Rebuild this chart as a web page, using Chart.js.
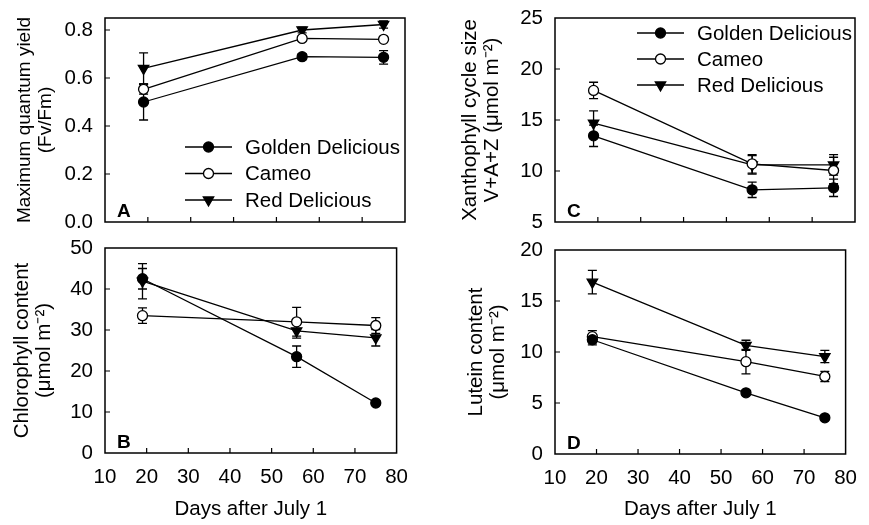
<!DOCTYPE html>
<html>
<head>
<meta charset="utf-8">
<script src="https://cdn.jsdelivr.net/npm/chart.js@4.4.1/dist/chart.umd.min.js"></script>
<style>
  body { margin: 0; background: #fff; }
  #wrap { position: relative; width: 869px; height: 525px; }
  #wrap canvas { position: absolute; }
</style>
</head>
<body>
<div id="wrap">
  <canvas id="chartA" width="420" height="240" style="left:0;top:0"></canvas>
  <canvas id="chartC" width="434" height="240" style="left:435px;top:0"></canvas>
  <canvas id="chartB" width="420" height="300" style="left:0;top:225px"></canvas>
  <canvas id="chartD" width="434" height="300" style="left:435px;top:225px"></canvas>
</div>
<script>
// sampling days (days after July 1)
const days = [19, 56, 75];
const cultivars = ['Golden Delicious', 'Cameo', 'Red Delicious'];
const dayTicks = [10, 20, 30, 40, 50, 60, 70, 80];

// A - maximum quantum yield Fv/Fm
const fvfmGolden = [0.50, 0.689, 0.686];
const fvfmGoldenErr = [0.075, 0.012, 0.028];
const fvfmCameo = [0.553, 0.765, 0.761];
const fvfmCameoErr = [0.02, 0.01, 0.01];
const fvfmRed = [0.64, 0.80, 0.823];
const fvfmRedErr = [0.065, 0.012, 0.015];
const fvfmTicks = [0, 0.2, 0.4, 0.6, 0.8];

// B - chlorophyll content
const chlGolden = [42.5, 23.5, 12.2];
const chlGoldenErr = [2.5, 2.6, 0.6];
const chlCameo = [33.5, 32.0, 31.1];
const chlCameoErr = [1.9, 3.5, 1.9];
const chlRed = [41.9, 29.8, 28.1];
const chlRedErr = [4.3, 1.8, 2.0];
const chlTicks = [0, 10, 20, 30, 40, 50];

// C - xanthophyll cycle size
const xanGolden = [13.45, 8.15, 8.35];
const xanGoldenErr = [1.05, 0.75, 0.85];
const xanCameo = [17.9, 10.7, 10.05];
const xanCameoErr = [0.8, 0.9, 1.3];
const xanRed = [14.7, 10.6, 10.6];
const xanRedErr = [1.2, 0.9, 1.0];
const xanTicks = [5, 10, 15, 20, 25];

// D - lutein content
const lutGolden = [11.2, 6.0, 3.55];
const lutGoldenErr = [0.5, 0.2, 0.2];
const lutCameo = [11.5, 9.05, 7.6];
const lutCameoErr = [0.6, 1.2, 0.5];
const lutRed = [16.85, 10.65, 9.55];
const lutRedErr = [1.15, 0.5, 0.6];
const lutTicks = [0, 5, 10, 15, 20];

const FONT = '"Liberation Sans", Arial, sans-serif';
const TXT = 20.5;
Chart.defaults.font.family = FONT;
Chart.defaults.color = '#000';

const markers = [
  { pointStyle: 'circle', rotation: 0, radius: 5, fill: '#000' },
  { pointStyle: 'circle', rotation: 0, radius: 5, fill: '#fff' },
  { pointStyle: 'triangle', rotation: 180, radius: 6, fill: '#000' }
];

// error bars, drawn under the markers
const errorBars = {
  id: 'errorBars',
  beforeDatasetsDraw(chart) {
    const { ctx, scales } = chart;
    ctx.save();
    ctx.strokeStyle = '#000';
    ctx.lineWidth = 1.3;
    chart.data.datasets.forEach(ds => {
      ds.data.forEach((p, i) => {
        const e = ds.errors[i];
        const x = scales.x.getPixelForValue(p.x);
        const y1 = scales.y.getPixelForValue(p.y + e);
        const y2 = scales.y.getPixelForValue(p.y - e);
        ctx.beginPath();
        ctx.moveTo(x, y1); ctx.lineTo(x, y2);
        ctx.moveTo(x - 4.5, y1); ctx.lineTo(x + 4.5, y1);
        ctx.moveTo(x - 4.5, y2); ctx.lineTo(x + 4.5, y2);
        ctx.stroke();
      });
    });
    ctx.restore();
  }
};

// closed frame, inward tick marks and the panel letter
const frame = {
  id: 'frame',
  afterDraw(chart, args, opts) {
    const { ctx, chartArea: a, scales } = chart;
    ctx.save();
    ctx.strokeStyle = '#000';
    ctx.lineWidth = 1.5;
    ctx.strokeRect(a.left, a.top, a.right - a.left, a.bottom - a.top);
    ctx.lineWidth = 1.2;
    ctx.beginPath();
    scales.x.ticks.forEach(t => {
      const px = scales.x.getPixelForValue(t.value);
      if (px <= a.left + 1 || px >= a.right - 1) return;
      ctx.moveTo(px, a.bottom); ctx.lineTo(px, a.bottom - 5);
    });
    scales.y.ticks.forEach(t => {
      const py = scales.y.getPixelForValue(t.value);
      if (py <= a.top + 1 || py >= a.bottom - 1) return;
      ctx.moveTo(a.left, py); ctx.lineTo(a.left + 5, py);
    });
    ctx.stroke();
    ctx.fillStyle = '#000';
    ctx.font = 'bold 19px ' + FONT;
    ctx.textBaseline = 'alphabetic';
    ctx.fillText(opts.letter, a.left + 12, a.bottom - 5);
    ctx.restore();
  }
};

// legend with line + marker samples
const keyBox = {
  id: 'keyBox',
  afterDraw(chart, args, opts) {
    if (!opts.show) return;
    const { ctx, chartArea: a } = chart;
    ctx.save();
    chart.data.datasets.forEach((ds, i) => {
      const x0 = a.left + opts.x;
      const y = a.top + opts.y + i * opts.gap;
      ctx.strokeStyle = '#000';
      ctx.lineWidth = 1.3;
      ctx.beginPath();
      ctx.moveTo(x0, y); ctx.lineTo(x0 + 47, y);
      ctx.stroke();
      const m = markers[i];
      ctx.fillStyle = m.fill;
      Chart.helpers.drawPoint(ctx, { pointStyle: m.pointStyle, rotation: m.rotation, radius: m.radius, borderWidth: 1.3 }, x0 + 23.5, y);
      ctx.fillStyle = '#000';
      ctx.font = TXT + 'px ' + FONT;
      ctx.textBaseline = 'middle';
      ctx.fillText(ds.label, x0 + 60, y + 1);
    });
    ctx.restore();
  }
};

function series(values, errors, i) {
  const m = markers[i];
  return {
    label: cultivars[i],
    data: days.map((d, k) => ({ x: d, y: values[k] })),
    errors: errors,
    showLine: true,
    borderColor: '#000',
    borderWidth: 1.3,
    pointStyle: m.pointStyle,
    rotation: m.rotation,
    pointRadius: m.radius,
    pointBackgroundColor: m.fill,
    pointBorderColor: '#000',
    pointBorderWidth: 1.3
  };
}

function makePanel(id, p) {
  new Chart(id, {
    type: 'scatter',
    data: { datasets: p.datasets },
    options: {
      responsive: false,
      animation: false,
      layout: { padding: { left: 0, top: p.padTop, right: p.padRight, bottom: 0 } },
      scales: {
        x: {
          type: 'linear', min: 10, max: 80,
          afterBuildTicks: s => { s.ticks = dayTicks.map(v => ({ value: v })); },
          afterFit: s => { s.height = p.xHeight; },
          grid: { display: false, drawTicks: false },
          border: { display: false },
          ticks: { display: p.bottom, padding: 12, font: { size: TXT } },
          title: { display: p.bottom, text: 'Days after July 1', font: { size: TXT }, padding: { top: 0, bottom: 3 } }
        },
        y: {
          type: 'linear', min: p.yMin, max: p.yMax,
          afterBuildTicks: s => { s.ticks = p.yTicks.map(v => ({ value: v })); },
          afterFit: s => { s.width = p.yWidth; s.paddingTop = 0; s.paddingBottom = 0; },
          grid: { display: false, drawTicks: false },
          border: { display: false },
          ticks: { padding: 12, font: { size: TXT }, callback: p.fmt },
          title: { display: true, text: p.title, font: { size: p.titleSize || TXT, lineHeight: p.titleLh || 1.1 }, padding: { top: p.titlePad, bottom: 0 } }
        }
      },
      plugins: {
        legend: { display: false },
        tooltip: { enabled: false },
        frame: { letter: p.letter },
        keyBox: p.key || { show: false }
      }
    },
    plugins: [errorBars, frame, keyBox]
  });
}

makePanel('chartA', {
  letter: 'A', bottom: false,
  padTop: 18, padRight: 15, xHeight: 18, yWidth: 105, titlePad: 15, titleSize: 19, titleLh: 1.08,
  yMin: 0, yMax: 0.85, yTicks: fvfmTicks, fmt: v => v.toFixed(1),
  title: ['Maximum quantum yield', '(Fv/Fm)'],
  key: { show: true, x: 80, y: 129, gap: 26.5 },
  datasets: [series(fvfmGolden, fvfmGoldenErr, 0), series(fvfmCameo, fvfmCameoErr, 1), series(fvfmRed, fvfmRedErr, 2)]
});

makePanel('chartB', {
  letter: 'B', bottom: true,
  padTop: 23, padRight: 15, xHeight: 72, yWidth: 105, titlePad: 11,
  yMin: 0, yMax: 50, yTicks: chlTicks, fmt: v => String(v),
  title: ['Chlorophyll content', '(\u03bcmol m\u207b\u00b2)'],
  datasets: [series(chlGolden, chlGoldenErr, 0), series(chlCameo, chlCameoErr, 1), series(chlRed, chlRedErr, 2)]
});

makePanel('chartC', {
  letter: 'C', bottom: false,
  padTop: 18, padRight: 14, xHeight: 18, yWidth: 120, titlePad: 24,
  yMin: 5, yMax: 25, yTicks: xanTicks, fmt: v => String(v),
  title: ['Xanthophyll cycle size', 'V+A+Z (\u03bcmol m\u207b\u00b2)'],
  key: { show: true, x: 82, y: 15, gap: 26 },
  datasets: [series(xanGolden, xanGoldenErr, 0), series(xanCameo, xanCameoErr, 1), series(xanRed, xanRedErr, 2)]
});

makePanel('chartD', {
  letter: 'D', bottom: true,
  padTop: 25, padRight: 14, xHeight: 71, yWidth: 120, titlePad: 30,
  yMin: 0, yMax: 20, yTicks: lutTicks, fmt: v => String(v),
  title: ['Lutein content', '(\u03bcmol m\u207b\u00b2)'],
  datasets: [series(lutGolden, lutGoldenErr, 0), series(lutCameo, lutCameoErr, 1), series(lutRed, lutRedErr, 2)]
});
</script>
</body>
</html>
